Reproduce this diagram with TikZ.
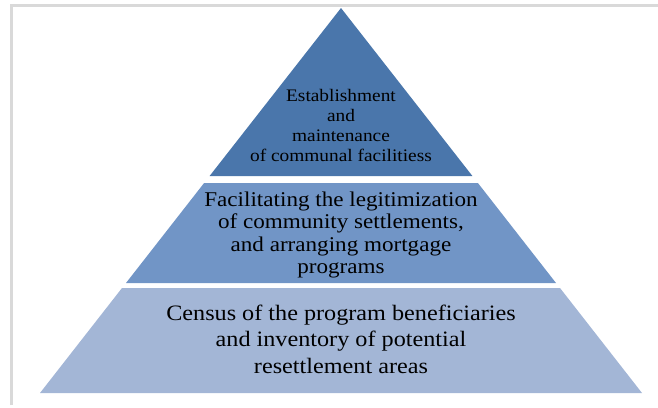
\documentclass[tikz,border=0pt]{standalone}
\usepackage{fontspec}
\setmainfont{Liberation Serif}[FakeStretch=1.1]
\usetikzlibrary{calc,positioning}
\definecolor{tiertop}{HTML}{4A76AB}
\definecolor{tiermid}{HTML}{7195C6}
\definecolor{tierlow}{HTML}{A3B6D6}
\definecolor{framegray}{HTML}{D9D9D9}
\tikzset{
  % tier styles (slices of one triangle, white gaps between them)
  tier/.style={draw=none},
  toptier/.style={tier,fill=tiertop},
  midtier/.style={tier,fill=tiermid},
  lowtier/.style={tier,fill=tierlow},
  % label styles
  tierlabel/.style={align=center,inner sep=0pt,text=black},
  frame/.style={draw=framegray,line width=2.5pt},
}

\begin{document}
\begin{tikzpicture}[x=1pt,y=-1pt]
  \useasboundingbox (0,0) rectangle (658,407);
  \draw[frame] (11.5,405) -- (11.5,5.5) -- (658,5.5);
  % corners of the tiers
  \coordinate (apex) at (341,8);
  \coordinate (tl) at (209.6,176);  \coordinate (tr) at (472.4,176);
  \coordinate (ml) at (204.1,183);  \coordinate (mr) at (477.9,183);
  \coordinate (mbl) at (126,283);   \coordinate (mbr) at (556,283);
  \coordinate (ll) at (122,288);    \coordinate (lr) at (560,288);
  \coordinate (lbl) at (40,393);    \coordinate (lbr) at (642,393);
  \fill[toptier] (apex) -- (tr) -- (tl) -- cycle;
  \fill[midtier] (ml) -- (mr) -- (mbr) -- (mbl) -- cycle;
  \fill[lowtier] (ll) -- (lr) -- (lbr) -- (lbl) -- cycle;
  \node[tierlabel,font=\fontsize{17.6}{20}\selectfont] (top) at (341,125)
    {Establishment\\and\\maintenance\\of communal facilitiess};
  \node[tierlabel,font=\fontsize{21}{22.2}\selectfont] (mid) at (341,235)
    {Facilitating the legitimization\\of community settlements,\\and arranging mortgage\\programs};
  \node[tierlabel,font=\fontsize{22}{26.5}\selectfont] (low) at (341,339)
    {Census of the program beneficiaries\\and inventory of potential\\resettlement areas};
\end{tikzpicture}
\end{document}
